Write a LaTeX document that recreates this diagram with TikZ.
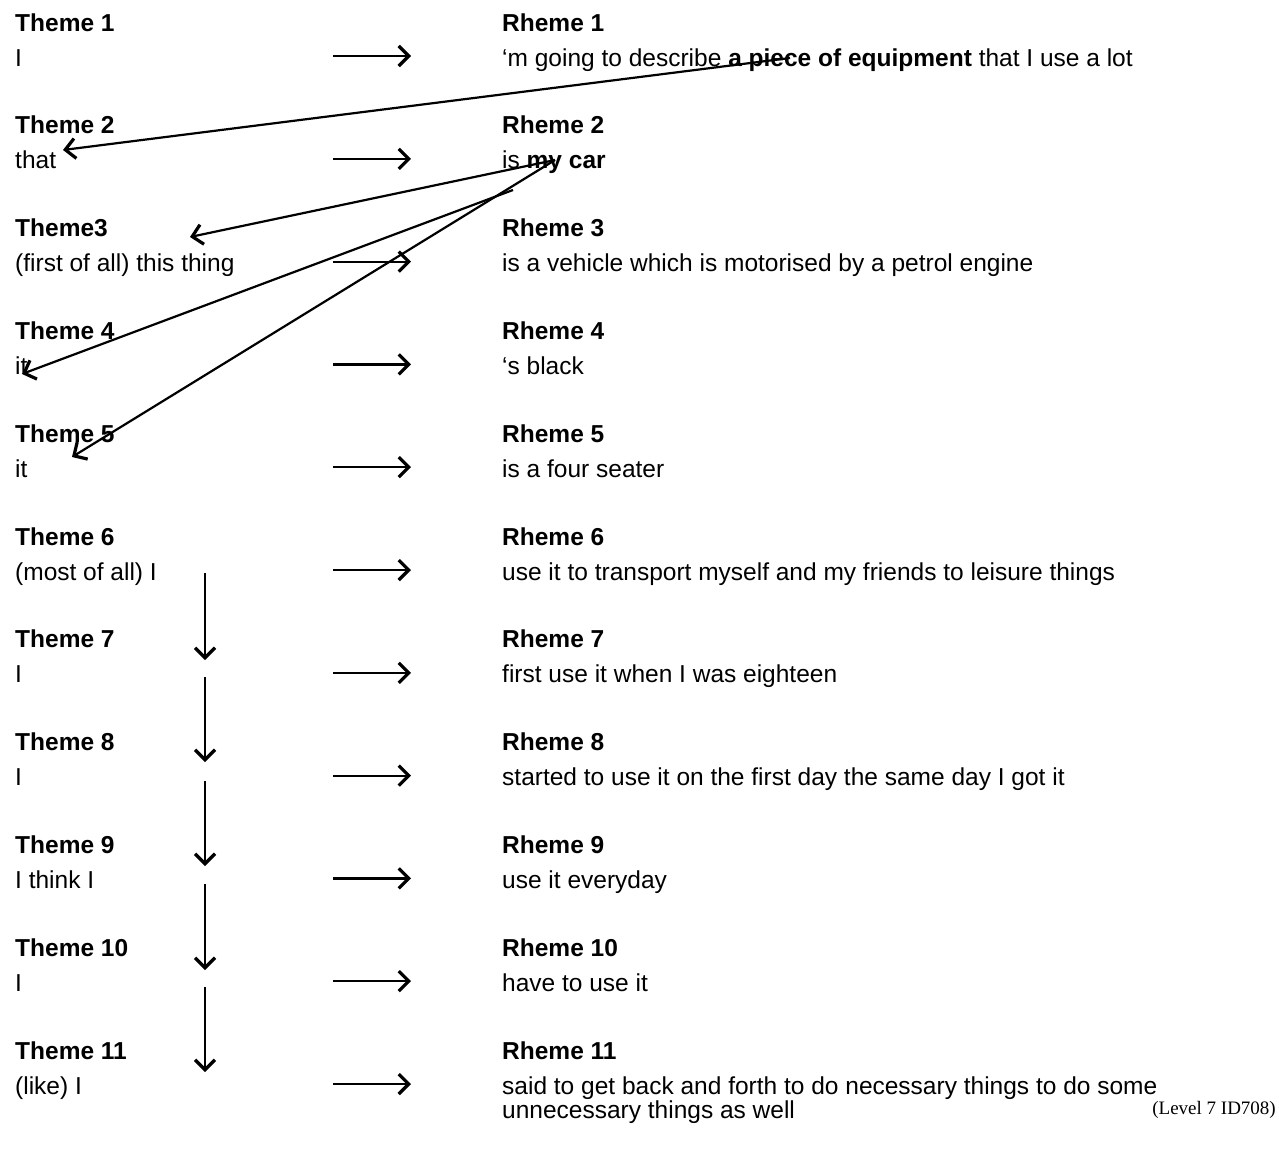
\documentclass[tikz,border=0pt]{standalone}
\usepackage{fontspec}
\setmainfont{Liberation Sans}
\newfontfamily\serifface{Liberation Serif}
\usetikzlibrary{positioning}
\usetikzlibrary{arrows.meta}
\begin{document}
\begin{tikzpicture}[x=1pt,y=-1pt,
    txt/.style={anchor=base west, inner sep=0pt, font=\fontsize{24.5}{28}\selectfont},
    flow/.style={-{Straight Barb[length=10pt,width=20pt,line width=3.2pt]}, line width=2.2pt}]
  % frame
  \useasboundingbox (0,0) rectangle (1279,1162);
  % theme and rheme columns
  \foreach \i/\th/\rh in {1/I/{`m going to describe \textbf{a piece of equipment} that I use a lot},
      2/that/{is \textbf{my car}},
      3/(first of all) this thing/{is a vehicle which is motorised by a petrol engine},
      4/it/{`s black},
      5/it/{is a four seater},
      6/(most of all) I/{use it to transport myself and my friends to leisure things},
      7/I/{first use it when I was eighteen},
      8/I/{started to use it on the first day the same day I got it},
      9/I think I/{use it everyday},
      10/I/{have to use it},
      11/(like) I/{said to get back and forth to do necessary things to do some}} {
    \pgfmathsetmacro{\yy}{31+102.8*(\i-1)}
    \ifnum\i=3
      \node[txt] (th\i) at (15,\yy) {\textbf{Theme3}};
    \else
      \node[txt] (th\i) at (15,\yy) {\textbf{Theme \i}};
    \fi
    \node[txt] (tt\i) at (15,\yy+35) {\th};
    \node[txt] (rh\i) at (502,\yy) {\textbf{Rheme \i}};
    \node[txt] (rt\i) at (502,\yy+35) {\rh};
    \coordinate (ra\i) at (333,\yy+25);
    \coordinate (rb\i) at (411,\yy+25);
    \draw[flow] (ra\i) -- (rb\i);
  }
  \node[txt] (rt11b) at (502,1118) {unnecessary things as well};
  \node[anchor=base east, inner sep=0pt, font=\serifface\fontsize{19}{22}\selectfont] (lvl) at (1276,1114) {(Level 7 ID708)};
  % theme chain
  \foreach \i/\a/\b in {1/573/660, 2/677/762, 3/781/866, 4/884/970, 5/987/1072} {
    \coordinate (va\i) at (205,\a);
    \coordinate (vb\i) at (205,\b);
    \draw[flow] (va\i) -- (vb\i);
  }
  % links back from rheme to theme
  \coordinate (eq) at (790,58);
  \coordinate (car1) at (555,160);
  \coordinate (car2) at (513,190);
  \coordinate (t2) at (63,150);
  \coordinate (t3) at (190,237);
  \coordinate (t4) at (22,374);
  \coordinate (t5) at (72,457);
  \draw[flow] (eq) -- (t2);
  \draw[flow] (car1) -- (t3);
  \draw[flow] (car2) -- (t4);
  \draw[flow] (car1) -- (t5);
\end{tikzpicture}
\end{document}
